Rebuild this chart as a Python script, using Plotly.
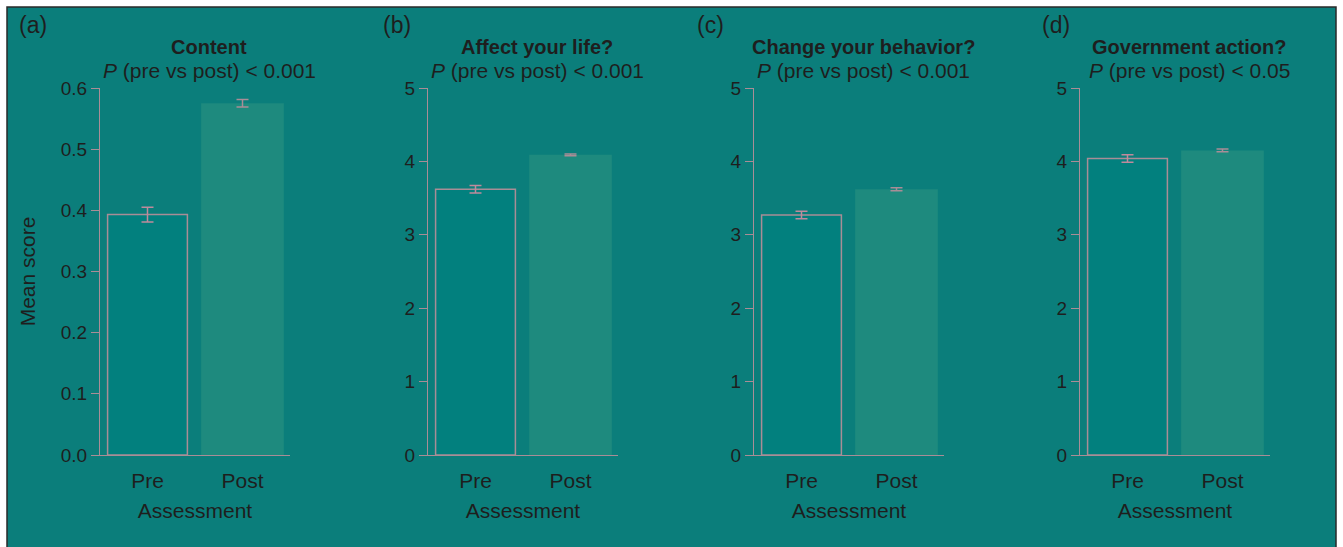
import plotly.graph_objects as go

# ---- data ----
categories = ["Pre", "Post"]
panel_labels = ["(a)", "(b)", "(c)", "(d)"]
panel_titles = ["Content", "Affect your life?", "Change your behavior?", "Government action?"]
p_values = ["< 0.001", "< 0.001", "< 0.001", "< 0.05"]
pre_means = [0.393, 3.62, 3.27, 4.04]
post_means = [0.575, 4.09, 3.62, 4.15]
pre_err = [0.012, 0.05, 0.05, 0.05]
post_err = [0.006, 0.012, 0.02, 0.02]
y_max = [0.6, 5, 5, 5]
y_dtick = [0.1, 1, 1, 1]
y_format = [".1f", "d", "d", "d"]

W, H = 1343, 547
PAGE = "#0b7e7b"
PLOT = "#02807e"
POST_FILL = "#1e8a7e"
AXIS = "#a98d96"
ERR = "#c08a9c"
TXT = "#1e1e1e"
FONT = "Liberation Sans, Arial, Helvetica, sans-serif"

plot_left = [100, 428, 754, 1080]
plot_w = 190
plot_top, plot_bot = 88, 455

fig = go.Figure()
layout = dict(
    width=W, height=H,
    autosize=False,
    margin=dict(l=0, r=0, t=0, b=0, pad=0),
    paper_bgcolor="white",
    plot_bgcolor=PLOT,
    showlegend=False,
    font=dict(family=FONT, color=TXT),
    annotations=[],
    shapes=[dict(type="rect", xref="paper", yref="paper",
                 x0=7 / W, x1=1336 / W, y0=-0.05, y1=1 - 7 / H,
                 fillcolor=PAGE, line=dict(color="#2a2a2a", width=1.5), layer="below")],
)

for i in range(4):
    sfx = "" if i == 0 else str(i + 1)
    xa, ya = "x" + sfx, "y" + sfx
    fig.add_trace(go.Bar(
        x=[categories[0]], y=[pre_means[i]], xaxis=xa, yaxis=ya,
        marker=dict(color=PLOT, line=dict(color=AXIS, width=1.5)), width=0.84,
        error_y=dict(type="data", array=[pre_err[i]], color=ERR, thickness=1.5, width=6),
    ))
    fig.add_trace(go.Bar(
        x=[categories[1]], y=[post_means[i]], xaxis=xa, yaxis=ya,
        marker=dict(color=POST_FILL, line=dict(width=0)), width=0.87,
        error_y=dict(type="data", array=[post_err[i]], color=AXIS, thickness=1.5, width=6),
    ))
    x0 = plot_left[i] / W
    x1 = (plot_left[i] + plot_w) / W
    layout["xaxis" + sfx] = dict(
        domain=[x0, x1], anchor=ya, range=[-0.5, 1.5], automargin=False,
        categoryorder="array", categoryarray=categories,
        showline=True, linecolor=AXIS, linewidth=1.2,
        ticks="outside", ticklen=7, tickcolor="rgba(0,0,0,0)",
        tickfont=dict(size=21, color=TXT), showgrid=False, zeroline=False,
        title=dict(text="Assessment", font=dict(size=21, color=TXT), standoff=12),
        fixedrange=True,
    )
    layout["yaxis" + sfx] = dict(
        domain=[1 - plot_bot / H, 1 - plot_top / H], anchor=xa, automargin=False,
        range=[0, y_max[i]], dtick=y_dtick[i], tickformat=y_format[i],
        showline=True, linecolor=AXIS, linewidth=1.2,
        ticks="outside", ticklen=8, tickcolor=AXIS, tickwidth=1.2,
        tickfont=dict(size=19, color=TXT), showgrid=False, zeroline=False,
        fixedrange=True,
    )
    if i == 0:
        layout["yaxis"]["title"] = dict(text="Mean score", font=dict(size=21, color=TXT), standoff=19)
    cx = (plot_left[i] + plot_w / 2 + 14) / W
    layout["annotations"].append(dict(
        text="<b>" + panel_titles[i] + "</b>", xref="paper", yref="paper",
        x=cx, y=1 - 47 / H, xanchor="center", yanchor="middle", showarrow=False,
        font=dict(size=20, color=TXT)))
    layout["annotations"].append(dict(
        text="<i>P</i> (pre vs post) " + p_values[i].replace("<", "&lt;"), xref="paper", yref="paper",
        x=cx, y=1 - 71 / H, xanchor="center", yanchor="middle", showarrow=False,
        font=dict(size=21, color=TXT)))
    lab_x = [17, 381, 695, 1040][i]
    layout["annotations"].append(dict(
        text=panel_labels[i], xref="paper", yref="paper",
        x=lab_x / W, y=1 - 25 / H, xanchor="left", yanchor="middle", showarrow=False,
        font=dict(size=23, color=TXT)))

fig.update_layout(**layout)
fig.write_html("out.html", config={"displayModeBar": False, "responsive": False},
               post_script="document.body.style.margin='0';document.body.style.padding='0';")
